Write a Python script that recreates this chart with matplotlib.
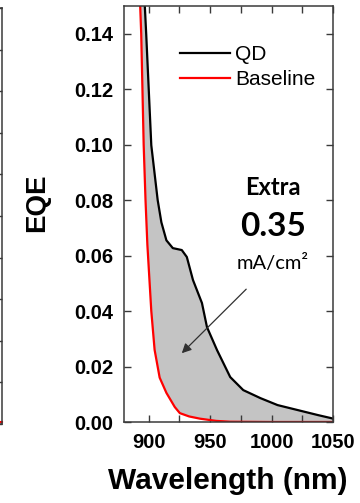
import numpy as np
import matplotlib.pyplot as plt

plt.rcParams['font.family'] = ['Liberation Sans', 'DejaVu Sans']

# QD curve
qd_wl = [896.7, 898.1, 902.2, 907.4, 910.4, 914.5, 919.7, 927.0, 931.1, 936.1,
         943.4, 947.5, 955.7, 966.4, 977.0, 991.0, 1004.9, 1021.3, 1037.7, 1048.4, 1050.0]
qd_eqe = [0.152, 0.1395, 0.0998, 0.080, 0.0720, 0.0655, 0.0627, 0.0620, 0.0595, 0.0512,
          0.0429, 0.0342, 0.0259, 0.0162, 0.0115, 0.0086, 0.0061, 0.0043, 0.0025, 0.0014, 0.0012]

# Baseline curve
base_wl = [893.0, 894.0, 896.0, 897.5, 899.0, 902.2, 904.9, 909.0, 914.5, 921.3,
           925.4, 933.0, 941.8, 955.0, 966.4, 1000.0, 1050.0]
base_eqe = [0.152, 0.140, 0.100, 0.080, 0.064, 0.040, 0.026, 0.016, 0.0105, 0.0054,
            0.0032, 0.0020, 0.0012, 0.0004, 0.0001, 0.0, 0.0]

x_ticks = [900, 950, 1000, 1050]
y_ticks = [0.00, 0.02, 0.04, 0.06, 0.08, 0.10, 0.12, 0.14]

W, H = 360, 503
fig = plt.figure(figsize=(W / 100, H / 100), dpi=100)
spine_col = '#3a3a3a'

# sliver of the neighbouring panel on the far left
ax0 = fig.add_axes([-0.3, 1 - 424 / H, 0.3 + 2 / W, 416 / H])
ax0.set_xlim(0, 1)
ax0.set_ylim(0, 10)
ax0.set_yticks(range(11))
ax0.set_xticks([])
ax0.tick_params(axis='y', direction='in', right=True, left=False, labelleft=False,
                length=5, width=1, color=spine_col)
for s in ax0.spines.values():
    s.set_color(spine_col)
    s.set_linewidth(1.1)
ax0.plot([0.9, 1.0], [0.05, 0.05], color='red', lw=1.5, clip_on=False)

ax = fig.add_axes([124 / W, 1 - 422 / H, 209 / W, 416 / H])

# grey area between the two curves
poly_x = list(qd_wl) + list(base_wl[::-1])
poly_y = list(qd_eqe) + list(base_eqe[::-1])
ax.fill(poly_x, poly_y, color='#c4c4c4', lw=0)

ax.plot(qd_wl, qd_eqe, color='black', lw=1.6, label='QD')
ax.plot(base_wl, base_eqe, color='red', lw=1.6, label='Baseline')

ax.set_xlim(880, 1050)
ax.set_ylim(0, 0.15)
ax.set_xticks(x_ticks)
ax.set_xticks([925, 975, 1025], minor=True)
ax.set_yticks(y_ticks)
ax.set_xticklabels([str(t) for t in x_ticks], fontweight='bold', fontsize=14.5)
ax.set_yticklabels([f'{t:.2f}' for t in y_ticks], fontweight='bold', fontsize=14.5)
ax.tick_params(which='both', direction='in', top=True, right=True, length=5,
               width=1, color=spine_col)
ax.tick_params(axis='y', pad=7.5)
ax.tick_params(axis='x', pad=8)
for s in ax.spines.values():
    s.set_color(spine_col)
    s.set_linewidth(1.1)

leg = ax.legend(loc='upper left', bbox_to_anchor=(0.268, 0.906), frameon=False,
                borderpad=0, borderaxespad=0, handlelength=2.4, handletextpad=0.25,
                labelspacing=0.3, fontsize=15)

ax.text(0.713, 0.564, 'Extra', transform=ax.transAxes, ha='center', va='center',
        fontsize=17, fontweight='bold', family=['Lato', 'DejaVu Sans'])
ax.text(0.713, 0.469, '0.35', transform=ax.transAxes, ha='center', va='center',
        fontsize=24, fontweight='bold', family=['Lato', 'DejaVu Sans'])
ax.text(0.713, 0.382, 'mA/cm²', transform=ax.transAxes, ha='center', va='center',
        fontsize=14.5, family=['Lato', 'DejaVu Sans'])

ax.annotate('', xy=(925.4, 0.0241), xytext=(981, 0.0486),
            arrowprops=dict(arrowstyle='-|>', color='#303030', lw=0.9,
                            mutation_scale=14))

fig.text(37 / W, 1 - 203 / H, 'EQE', rotation=90, ha='center', va='center',
         fontsize=20, fontweight='bold')
fig.text(228 / W, 1 - 481 / H, 'Wavelength (nm)', ha='center', va='center',
         fontsize=21.5, fontweight='bold')

fig.savefig('out.png', dpi=100)
